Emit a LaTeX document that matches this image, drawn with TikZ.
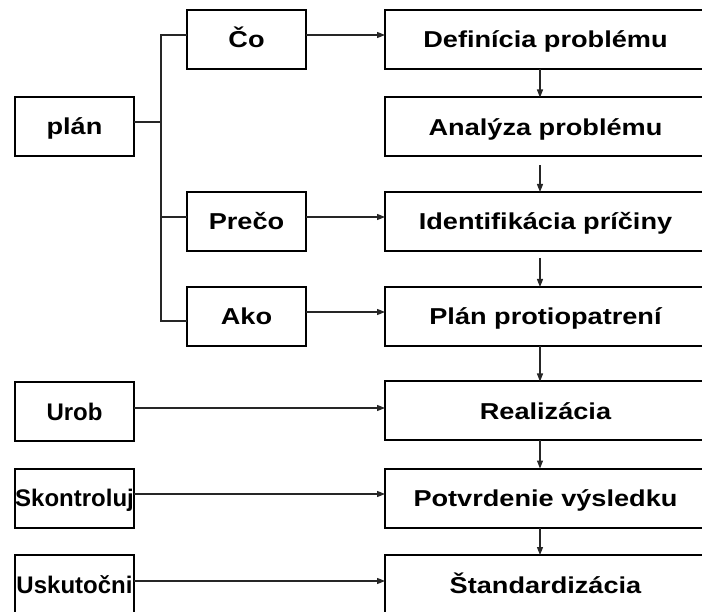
\documentclass[tikz,border=0pt]{standalone}
\usepackage{fontspec}
\setmainfont{Liberation Sans}
\newfontfamily\widesans{Liberation Sans}[FakeStretch=1.18]
\usetikzlibrary{arrows.meta}

\tikzset{
  box/.style={draw=black, line width=2pt, inner sep=0pt, outer sep=0pt,
    minimum height=59pt, text depth=0pt},
  leftbox/.style={box, minimum width=119pt},
  rightbox/.style={box, minimum width=321pt},
  widetext/.style={font=\widesans\bfseries\fontsize{23}{27}\selectfont, text height=16.5pt},
  plaintext/.style={font=\bfseries\fontsize{24}{28}\selectfont, text height=17.2pt},
  link/.style={draw=black!85, line width=1.1pt},
  arr/.style={link, -{Triangle[length=8pt,width=6pt]}},
}

\begin{document}
\begin{tikzpicture}[x=1pt, y=-1pt]
  \useasboundingbox (0,0) rectangle (702,612);
  \clip (0,0) rectangle (702,612);

  % question column
  \node[leftbox, widetext] (plan)  at (74.5,126.5) {plán};
  \node[leftbox, widetext] (co)    at (246.5,39.5) {Čo};
  \node[leftbox, widetext] (preco) at (246.5,221.5) {Prečo};
  \node[leftbox, widetext] (ako)   at (246.5,316.5) {Ako};
  \node[leftbox, plaintext] (urob) at (74.5,411.5) {Urob};
  \node[leftbox, plaintext] (skon) at (74.5,498) {Skontroluj};
  \node[leftbox, plaintext, minimum height=60pt] (usk) at (74.5,585) {Uskutočni};

  % process steps
  \node[rightbox, widetext] (def)   at (545.5,39.5) {Definícia problému};
  \node[rightbox, widetext] (ana)   at (545.5,127) {Analýza problému};
  \node[rightbox, widetext] (ident) at (545.5,221.5) {Identifikácia príčiny};
  \node[rightbox, widetext] (prot)  at (545.5,316.5) {Plán protiopatrení};
  \node[rightbox, widetext] (real)  at (545.5,411) {Realizácia};
  \node[rightbox, widetext] (potv)  at (545.5,498) {Potvrdenie výsledku};
  \node[rightbox, widetext, minimum height=60pt] (stand) at (545.5,585) {Štandardizácia};

  % tree from "plán"
  \coordinate (jn)   at (161,122);
  \coordinate (tTop) at (161,35);
  \coordinate (tMid) at (161,217);
  \coordinate (tBot) at (161,321);
  \draw[link] (plan.east |- jn) -- (jn);
  \draw[link] (co.west |- tTop) -- (tTop) -- (tBot) -- (ako.west |- tBot);
  \draw[link] (tMid) -- (preco.west |- tMid);

  % horizontal arrows
  \draw[arr] (co.east |- 0,35)    -- (def.west |- 0,35);
  \draw[arr] (preco.east |- 0,217) -- (ident.west |- 0,217);
  \draw[arr] (ako.east |- 0,312)  -- (prot.west |- 0,312);
  \draw[arr] (urob.east |- 0,408) -- (real.west |- 0,408);
  \draw[arr] (skon.east |- 0,494) -- (potv.west |- 0,494);
  \draw[arr] (usk.east |- 0,581)  -- (stand.west |- 0,581);

  % vertical flow
  \coordinate (col) at (540,0);
  \draw[arr] (def.south -| col)   -- (ana.north -| col);
  \draw[arr, shorten <=9pt] (ana.south -| col) -- (ident.north -| col);
  \draw[arr, shorten <=7pt] (ident.south -| col) -- (prot.north -| col);
  \draw[arr] (prot.south -| col)  -- (real.north -| col);
  \draw[arr] (real.south -| col)  -- (potv.north -| col);
  \draw[arr] (potv.south -| col)  -- (stand.north -| col);
\end{tikzpicture}
\end{document}
